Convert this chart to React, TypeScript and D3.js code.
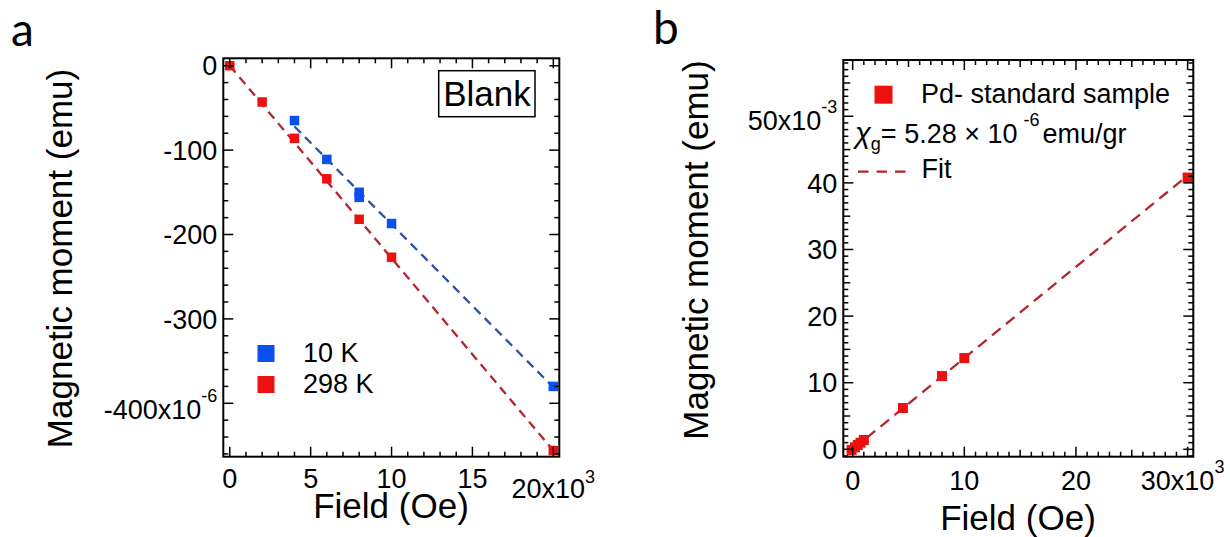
import React from 'react';
import * as d3 from 'd3';

// ---------- Panel a data (Field in 10^3 Oe, moment in 10^-6 emu) ----------
const fieldA10K = [4, 6, 8, 8, 10, 20];
const momentA10K = [-65, -111, -150, -156, -187, -380];
const fieldA298K = [0, 2, 4, 6, 8, 10, 20];
const momentA298K = [0, -43, -86, -134, -182, -227, -456];
const fitFieldA10K = [4, 20];
const fitMomentA10K = [-72, -381];
const fitFieldA298K = [0, 20];
const fitMomentA298K = [0, -456];
const xTicksA = [0, 5, 10, 15, 20];
const yTicksA = [0, -100, -200, -300, -400];
const legendA = ['10 K', '298 K'];

// ---------- Panel b data (Field in 10^3 Oe, moment in 10^-3 emu) ----------
const fieldB = [-0.1, 0.2, 0.45, 0.7, 1.0, 4.5, 8, 10, 30];
const momentB = [-0.1, 0.3, 0.65, 1.0, 1.4, 6.2, 11.0, 13.7, 40.8];
const fitFieldB = [0, 30];
const fitMomentB = [0, 41.1];
const xTicksB = [0, 10, 20, 30];
const yTicksB = [0, 10, 20, 30, 40, 50];

const FONT = "'Liberation Sans', Arial, Helvetica, sans-serif";
const RED = '#ee1010';
const BLUE = '#0a4ff2';
const RED_LINE = '#b3262e';
const BLUE_LINE = '#2a52a8';

type Frame = { x0: number; x1: number; y0: number; y1: number };

function Ticks({ f, xs, ys, xMinor, yMinor, xMed, yMed }: any) {
  const els: any[] = [];
  const MAJ = 10, MED = 7, MIN = 5;
  const addX = (v: number, len: number, k: string) => {
    const x = xs(v);
    els.push(<line key={'xb' + k} x1={x} x2={x} y1={f.y0} y2={f.y0 - len} />);
    els.push(<line key={'xt' + k} x1={x} x2={x} y1={f.y1} y2={f.y1 + len} />);
  };
  const addY = (v: number, len: number, k: string) => {
    const y = ys(v);
    els.push(<line key={'yl' + k} x1={f.x0} x2={f.x0 + len} y1={y} y2={y} />);
    els.push(<line key={'yr' + k} x1={f.x1} x2={f.x1 - len} y1={y} y2={y} />);
  };
  const [xa, xb] = xs.domain();
  const [ya, yb] = ys.domain();
  const xStart = Math.ceil(Math.min(xa, xb) / xMinor);
  const xEnd = Math.floor(Math.max(xa, xb) / xMinor);
  for (let i = xStart; i <= xEnd; i++) {
    const v = +(i * xMinor).toFixed(6);
    const isMaj = Math.abs(v / xMed[0] - Math.round(v / xMed[0])) < 1e-6;
    const isMed = xMed[1] && Math.abs(v / xMed[1] - Math.round(v / xMed[1])) < 1e-6;
    addX(v, isMaj ? MAJ : isMed ? MED : MIN, 'x' + i);
  }
  const yStart = Math.ceil(Math.min(ya, yb) / yMinor);
  const yEnd = Math.floor(Math.max(ya, yb) / yMinor);
  for (let i = yStart; i <= yEnd; i++) {
    const v = +(i * yMinor).toFixed(6);
    const isMaj = Math.abs(v / yMed[0] - Math.round(v / yMed[0])) < 1e-6;
    const isMed = yMed[1] && Math.abs(v / yMed[1] - Math.round(v / yMed[1])) < 1e-6;
    addY(v, isMaj ? MAJ : isMed ? MED : MIN, 'y' + i);
  }
  return <g stroke="#000" strokeWidth={1.5}>{els}</g>;
}

function Squares({ xs, ys, xv, yv, color, size }: any) {
  return (
    <g fill={color}>
      {xv.map((x: number, i: number) => (
        <rect key={i} x={xs(x) - size / 2} y={ys(yv[i]) - size / 2} width={size} height={size} />
      ))}
    </g>
  );
}

export default function App() {
  // Panel a
  const fA: Frame = { x0: 223.3, x1: 559.3, y0: 456.7, y1: 58.3 };
  const xA = d3.scaleLinear().domain([-0.4, 20.37]).range([fA.x0, fA.x1]);
  const yA = d3.scaleLinear().domain([-463.3, 8.8]).range([fA.y0, fA.y1]);

  // Panel b
  const fB: Frame = { x0: 843.3, x1: 1193.3, y0: 456.7, y1: 60 };
  const xB = d3.scaleLinear().domain([-0.84, 30.51]).range([fB.x0, fB.x1]);
  const yB = d3.scaleLinear().domain([-1.11, 58.45]).range([fB.y0, fB.y1]);

  const pathOf = (xs: any, ys: any, xv: number[], yv: number[]) =>
    d3.line<number>().x((d) => xs(d)).y((_, i) => ys(yv[i]))(xv) || '';

  return (
    <svg
      width={1230}
      height={537}
      style={{ position: 'absolute', left: 0, top: 0, background: '#fff' }}
      fontFamily={FONT}
    >
      <rect x={0} y={0} width={1230} height={537} fill="#fff" />

      {/* Panel letters */}
      <text x={11} y={46} fontSize={46} fontFamily="Lato, 'Open Sans', sans-serif">a</text>
      <text x={653} y={44} fontSize={46} fontFamily="Lato, 'Open Sans', sans-serif">b</text>

      {/* ===== Panel a ===== */}
      <path d={pathOf(xA, yA, fitFieldA10K, fitMomentA10K)} stroke={BLUE_LINE} strokeWidth={2.3} strokeDasharray="9,6" fill="none" />
      <path d={pathOf(xA, yA, fitFieldA298K, fitMomentA298K)} stroke={RED_LINE} strokeWidth={2.3} strokeDasharray="9,6" fill="none" />
      <Squares xs={xA} ys={yA} xv={fieldA10K} yv={momentA10K} color={BLUE} size={9.5} />
      <Squares xs={xA} ys={yA} xv={fieldA298K} yv={momentA298K} color={RED} size={9.5} />

      <Ticks f={fA} xs={xA} ys={yA} xMinor={1} yMinor={20} xMed={[5]} yMed={[100]} />
      <rect x={fA.x0} y={fA.y1} width={fA.x1 - fA.x0} height={fA.y0 - fA.y1} fill="none" stroke="#000" strokeWidth={2} />

      {/* y tick labels a */}
      <g fontSize={27} textAnchor="end">
        {yTicksA.map((v, i) =>
          i === yTicksA.length - 1 ? (
            <text key={v} x={fA.x0 - 6} y={yA(v) + 15.4}>
              {String(v)}x10<tspan fontSize={18} dy={-17}>-6</tspan>
            </text>
          ) : (
            <text key={v} x={fA.x0 - 6} y={yA(v) + 9.7}>{String(v)}</text>
          )
        )}
      </g>
      {/* x tick labels a */}
      <g fontSize={27} textAnchor="middle">
        {xTicksA.map((v, i) =>
          i === xTicksA.length - 1 ? (
            <text key={v} x={xA(v)} y={498.3}>
              {v}x10<tspan fontSize={18} dy={-15}>3</tspan>
            </text>
          ) : (
            <text key={v} x={xA(v)} y={488}>{v}</text>
          )
        )}
      </g>

      {/* Axis titles a */}
      <text x={391} y={518} fontSize={35} textAnchor="middle">Field (Oe)</text>
      <text transform="translate(72,258.5) rotate(-90)" fontSize={35} textAnchor="middle">Magnetic moment (emu)</text>

      {/* Blank box */}
      <rect x={438.7} y={70.7} width={96.3} height={46} fill="#fff" stroke="#000" strokeWidth={1.5} />
      <text x={487} y={106} fontSize={35} textAnchor="middle">Blank</text>

      {/* Legend a */}
      <rect x={257.5} y={345} width={17} height={17} fill={BLUE} />
      <rect x={257.5} y={376} width={17} height={17} fill={RED} />
      <text x={303} y={361.7} fontSize={27}>{legendA[0]}</text>
      <text x={303} y={393.3} fontSize={27}>{legendA[1]}</text>

      {/* ===== Panel b ===== */}
      <path d={pathOf(xB, yB, fitFieldB, fitMomentB)} stroke={RED_LINE} strokeWidth={2.3} strokeDasharray="11,7" fill="none" />
      <Squares xs={xB} ys={yB} xv={fieldB} yv={momentB} color={RED} size={10} />

      <Ticks f={fB} xs={xB} ys={yB} xMinor={1} yMinor={1} xMed={[10, 5]} yMed={[10, 5]} />
      <rect x={fB.x0} y={fB.y1} width={fB.x1 - fB.x0} height={fB.y0 - fB.y1} fill="none" stroke="#000" strokeWidth={2} />

      <g fontSize={27} textAnchor="end">
        {yTicksB.map((v, i) =>
          i === yTicksB.length - 1 ? (
            <text key={v} x={fB.x0 - 6} y={yB(v) + 14}>
              {v}x10<tspan fontSize={18} dy={-17}>-3</tspan>
            </text>
          ) : (
            <text key={v} x={fB.x0 - 6} y={yB(v) + 9.7}>{v}</text>
          )
        )}
      </g>
      <g fontSize={27} textAnchor="middle">
        {xTicksB.map((v, i) =>
          i === xTicksB.length - 1 ? (
            <text key={v} x={xB(v) - 5} y={490}>
              {v}x10<tspan fontSize={18} dy={-17}>3</tspan>
            </text>
          ) : (
            <text key={v} x={xB(v)} y={490}>{v}</text>
          )
        )}
      </g>

      <text x={1018} y={530} fontSize={35} textAnchor="middle">Field (Oe)</text>
      <text transform="translate(708.3,250) rotate(-90)" fontSize={35} textAnchor="middle">Magnetic moment (emu)</text>

      {/* Legend b */}
      <rect x={874.5} y={85.7} width={18} height={18} fill={RED} />
      <text x={921} y={103.3} fontSize={27}>Pd- standard sample</text>
      <text x={855} y={143} fontSize={27}>
        <tspan fontStyle="italic" fontSize={29}>χ</tspan>
        <tspan fontSize={18} dy={7}>g</tspan>
        <tspan dy={-7}>= 5.28 × 10</tspan>
        <tspan fontSize={18} dy={-17} dx={6}>-6</tspan>
        <tspan dy={17} dx={3}>emu/gr</tspan>
      </text>
      <line x1={858} x2={910} y1={171.7} y2={171.7} stroke={RED_LINE} strokeWidth={2.3} strokeDasharray="10.5,8" />
      <text x={921.5} y={178.3} fontSize={27}>Fit</text>
    </svg>
  );
}
